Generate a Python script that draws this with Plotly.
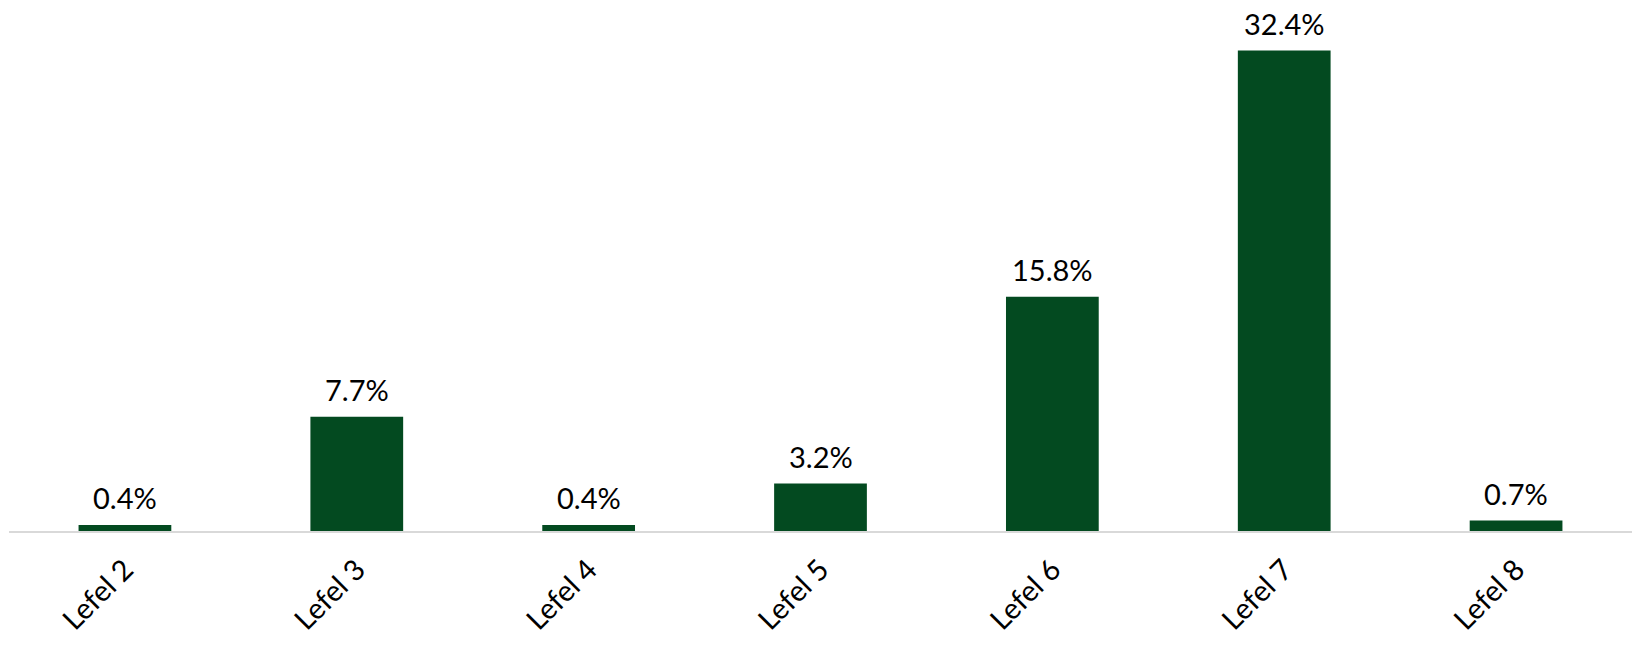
import plotly.graph_objects as go

categories = ["Lefel 2", "Lefel 3", "Lefel 4", "Lefel 5", "Lefel 6", "Lefel 7", "Lefel 8"]
values = [0.4, 7.7, 0.4, 3.2, 15.8, 32.4, 0.7]
labels = [f"{v:.1f}%" for v in values]

bar_color = "#034a20"
font_family = "Lato, 'Open Sans', sans-serif"

fig = go.Figure()
fig.add_trace(go.Bar(
    x=categories,
    y=values,
    marker=dict(color=bar_color, line=dict(width=0)),
    width=0.4,
    hoverinfo="skip",
))

for c, v, t in zip(categories, values, labels):
    fig.add_annotation(
        x=c, y=v, text=t, showarrow=False,
        yanchor="bottom", yshift=9, borderpad=0,
        font=dict(family=font_family, size=29, color="#000000"),
    )

fig.update_layout(
    width=1633, height=637,
    margin=dict(l=1, r=9, t=4, b=114, autoexpand=False),
    paper_bgcolor="white", plot_bgcolor="white",
    showlegend=False,
    font=dict(family=font_family, size=28, color="#000000"),
)
fig.update_xaxes(
    showline=True, linecolor="#d9d9d9", linewidth=2,
    showgrid=False, ticks="", tickangle=-45, automargin=False,
    ticklabelstandoff=8,
    tickfont=dict(family=font_family, size=29, color="#000000"),
)
fig.update_yaxes(range=[0, 35], visible=False, showgrid=False, zeroline=False, automargin=False)

fig.write_html("out.html")
